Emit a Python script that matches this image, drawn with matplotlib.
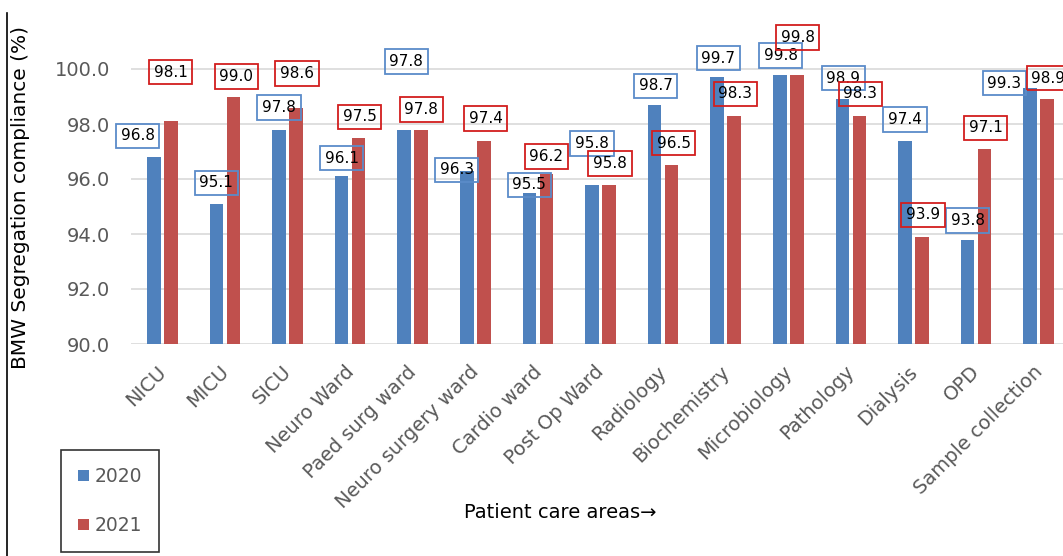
import matplotlib.pyplot as plt
import numpy as np
from matplotlib.lines import Line2D
from matplotlib.transforms import ScaledTranslation

# Chart data
areas = ["NICU", "MICU", "SICU", "Neuro Ward", "Paed surg ward", "Neuro surgery ward",
         "Cardio ward", "Post Op Ward", "Radiology", "Biochemistry", "Microbiology",
         "Pathology", "Dialysis", "OPD", "Sample collection"]
years = ["2020", "2021"]
compliance_2020 = [96.8, 95.1, 97.8, 96.1, 97.8, 96.3, 95.5, 95.8, 98.7, 99.7, 99.8, 98.9, 97.4, 93.8, 99.3]
compliance_2021 = [98.1, 99.0, 98.6, 97.5, 97.8, 97.4, 96.2, 95.8, 96.5, 98.3, 99.8, 98.3, 93.9, 97.1, 98.9]
y_ticks = [90.0, 92.0, 94.0, 96.0, 98.0, 100.0]

# Label offsets (pixels) from the top of each bar, as placed in the original
offsets_2020 = [(-16, 21), (0, 21), (0, 22), (0, 18), (2, 68), (-10, 1), (0, 8), (0, 41),
                (1, 19), (1, 19), (1, 19), (1, 21), (0, 21), (0, 19), (-26, 5)]
offsets_2021 = [(0, 49), (3, 20), (1, 34), (1, 21), (0, 20), (2, 22), (0, 17), (1, 21),
                (2, 22), (1, 22), (1, 37), (1, 22), (1, 22), (1, 21), (1, 21)]

blue = "#4F81BD"
red = "#C0504D"

fig = plt.figure(figsize=(10.63, 5.56), dpi=100)
ax = fig.add_axes([131 / 1063, 212 / 556, 939 / 1063, 302.5 / 556])

x = np.arange(len(areas))
w = 0.22
b1 = ax.bar(x - 0.136, compliance_2020, w, color=blue, label=years[0], zorder=2)
b2 = ax.bar(x + 0.136, compliance_2021, w, color=red, label=years[1], zorder=2)

ax.set_ylim(90, 101)
ax.set_xlim(-0.5, len(areas) - 0.5)
ax.set_yticks(y_ticks)
ax.set_yticklabels([f"{t:.1f}" for t in y_ticks])
ax.grid(axis="y", color="#D9D9D9", linewidth=1.2, zorder=0)
for s in ax.spines.values():
    s.set_visible(False)
ax.tick_params(axis="y", length=0, pad=15, labelsize=14, labelcolor="#595959")
ax.tick_params(axis="x", length=0, pad=13, labelsize=14, labelcolor="#595959")
ax.set_xticks(x)
ax.set_xticklabels(areas, rotation=45, ha="right", va="top", rotation_mode="anchor")
# nudge the rotated category names a little to the left
for lbl in ax.get_xticklabels():
    lbl.set_transform(lbl.get_transform() + ScaledTranslation(-0.06, 0, fig.dpi_scale_trans))

ax.set_ylabel("BMW Segregation compliance (%)", fontsize=14.5, color="black")
ax.yaxis.set_label_coords(-0.1076, 0.483)

# Boxed value labels
for bars, vals, offs, edge in [(b1, compliance_2020, offsets_2020, "#5B8BC9"),
                               (b2, compliance_2021, offsets_2021, "#D21E1E")]:
    for bar, v, (dx, dy) in zip(bars, vals, offs):
        ax.annotate(f"{v:.1f}", (bar.get_x() + bar.get_width() / 2, v),
                    xytext=(dx, dy), textcoords="offset pixels",
                    ha="center", va="center", fontsize=11, color="black",
                    bbox=dict(boxstyle="square,pad=0.3", fc="none", ec=edge, lw=1.3),
                    annotation_clip=False, zorder=3)

fig.text(560 / 1063, 1 - 512 / 556, "Patient care areas\u2192", ha="center", va="center",
         fontsize=14, color="black")

leg = fig.legend(handles=[b1, b2], labels=years, loc="lower left",
                 bbox_to_anchor=(61 / 1063, 4 / 556), frameon=True, fancybox=False,
                 edgecolor="black", fontsize=13.5, labelspacing=1.6, handlelength=0.6,
                 handleheight=0.6, handletextpad=0.3, borderpad=0.9, borderaxespad=0)
for t in leg.get_texts():
    t.set_color("#595959")
leg.get_frame().set_linewidth(1.2)

# Left frame line of the figure
fig.add_artist(Line2D([7 / 1063, 7 / 1063], [0, 1 - 13 / 556], color="black", lw=1.2))

fig.savefig("out.png", dpi=100)
